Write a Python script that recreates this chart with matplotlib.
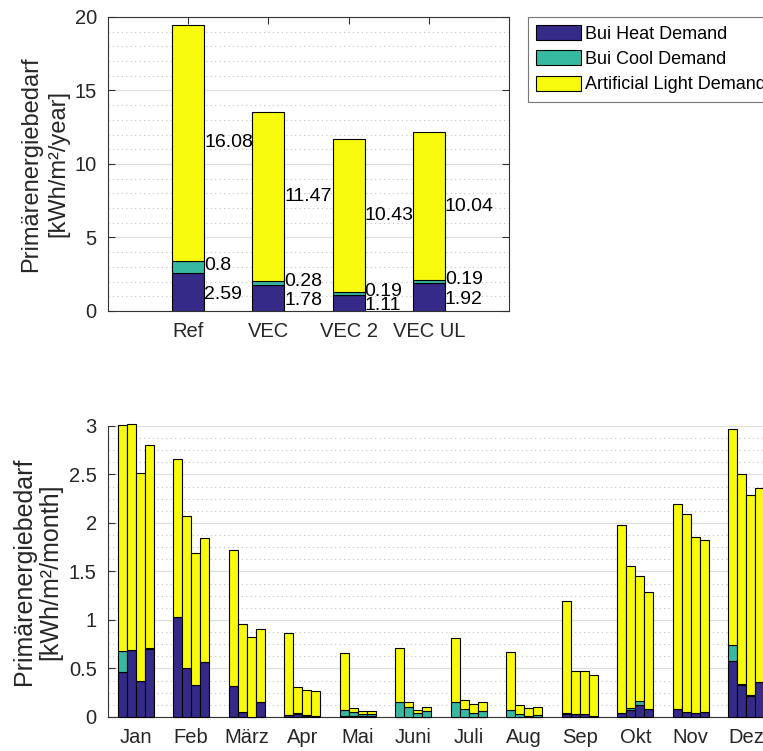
import numpy as np
import matplotlib
matplotlib.use("Agg")
import matplotlib.pyplot as plt
from matplotlib.ticker import MultipleLocator

plt.rcParams['font.family'] = ['Liberation Sans', 'DejaVu Sans']

# colours (parula-like)
cHeat = '#352a87'
cCool = '#36b9a0'
cLight = '#f8fa0d'

# yearly values
variants = ['Ref', 'VEC', 'VEC 2', 'VEC UL']
yearHeat = [2.59, 1.78, 1.11, 1.92]
yearCool = [0.8, 0.28, 0.19, 0.19]
yearLight = [16.08, 11.47, 10.43, 10.04]

# monthly values, one row per month, columns Ref, VEC, VEC 2, VEC UL
months = ['Jan', 'Feb', 'März', 'Apr', 'Mai', 'Juni', 'Juli', 'Aug', 'Sep', 'Okt', 'Nov', 'Dez']
monthTotal = [[3.01, 3.02, 2.51, 2.80],
              [2.66, 2.07, 1.69, 1.84],
              [1.72, 0.96, 0.82, 0.91],
              [0.87, 0.31, 0.28, 0.27],
              [0.66, 0.09, 0.06, 0.06],
              [0.71, 0.15, 0.07, 0.10],
              [0.81, 0.18, 0.13, 0.15],
              [0.67, 0.12, 0.09, 0.10],
              [1.20, 0.47, 0.47, 0.43],
              [1.98, 1.56, 1.45, 1.29],
              [2.20, 2.09, 1.86, 1.82],
              [2.97, 2.50, 2.29, 2.36]]
monthHeat = [[0.46, 0.69, 0.37, 0.70],
             [1.03, 0.50, 0.33, 0.57],
             [0.32, 0.05, 0.0, 0.15],
             [0.02, 0.035, 0.015, 0.008],
             [0.015, 0.012, 0.008, 0.005],
             [0.003, 0.002, 0.001, 0.001],
             [0.002, 0.002, 0.001, 0.001],
             [0.003, 0.002, 0.002, 0.002],
             [0.034, 0.027, 0.027, 0.01],
             [0.038, 0.072, 0.124, 0.082],
             [0.082, 0.048, 0.041, 0.048],
             [0.574, 0.333, 0.22, 0.361]]
monthCool = [[0.22, 0.005, 0.005, 0.008],
             [0.0, 0.0, 0.0, 0.0],
             [0.0, 0.0, 0.0, 0.0],
             [0.005, 0.003, 0.002, 0.002],
             [0.057, 0.043, 0.023, 0.029],
             [0.148, 0.098, 0.037, 0.057],
             [0.149, 0.077, 0.037, 0.057],
             [0.069, 0.025, 0.008, 0.015],
             [0.002, 0.002, 0.002, 0.002],
             [0.005, 0.021, 0.038, 0.002],
             [0.001, 0.001, 0.001, 0.001],
             [0.165, 0.004, 0.004, 0.002]]

fig = plt.figure(figsize=(7.63, 7.51), dpi=100)

gridMajor = dict(color='#dedede', linestyle='-', linewidth=0.9)
gridMinor = dict(color='#c4c4c4', linestyle=(0, (1, 3)), linewidth=0.8)
spineCol = '#333333'

# ---- yearly chart
ax1 = fig.add_axes([0.1415, 0.5859, 0.5256, 0.3915])
x = np.arange(1, 5)
h = np.array(yearHeat)
c = np.array(yearCool)
l = np.array(yearLight)
kw = dict(width=0.4, edgecolor='black', linewidth=0.8, zorder=3)
ax1.bar(x, h, color=cHeat, label='Bui Heat Demand', **kw)
ax1.bar(x, c, bottom=h, color=cCool, label='Bui Cool Demand', **kw)
ax1.bar(x, l, bottom=h + c, color=cLight, label='Artificial Light Demand', **kw)
for i in range(4):
    ax1.text(x[i] + 0.2, h[i] / 2 - 0.15, f'{yearHeat[i]:g}', fontsize=14, va='center', ha='left', zorder=4)
    ax1.text(x[i] + 0.2, h[i] + c[i] / 2 + 0.1, f'{yearCool[i]:g}', fontsize=14, va='center', ha='left', zorder=4)
    ax1.text(x[i] + 0.2, h[i] + c[i] + l[i] / 2, f'{yearLight[i]:g}', fontsize=14, va='center', ha='left', zorder=4)
ax1.set_xlim(0, 5)
ax1.set_ylim(0, 20)
ax1.set_xticks(x)
ax1.set_xticklabels(variants)
ax1.set_yticks(np.arange(0, 21, 5))
ax1.yaxis.set_minor_locator(MultipleLocator(1))
ax1.grid(axis='y', which='major', zorder=0, **gridMajor)
ax1.grid(axis='y', which='minor', zorder=0, **gridMinor)
ax1.set_axisbelow(True)
ax1.tick_params(which='major', direction='in', length=5, labelsize=14.5, top=True, right=True,
                color=spineCol, labelcolor='#262626', pad=8)
ax1.tick_params(which='minor', length=0)
for s in ax1.spines.values():
    s.set_color(spineCol)
    s.set_linewidth(0.8)
ax1.text(-0.158, 0.5, 'Primärenergiebedarf\n[kWh/m²/year]', transform=ax1.transAxes,
         rotation=90, ha='center', va='center', fontsize=17, color='#262626', linespacing=1.3)

leg = ax1.legend(loc='upper left', bbox_to_anchor=(528 / 763, 1 - 17 / 751),
                 bbox_transform=fig.transFigure, fontsize=13, frameon=True, fancybox=False,
                 handlelength=2.5, handleheight=0.9, handletextpad=0.2, labelspacing=0.42,
                 borderpad=0.45, borderaxespad=0)
leg.get_frame().set_edgecolor('#555555')
leg.get_frame().set_linewidth(0.8)

# ---- monthly chart
ax2 = fig.add_axes([0.1415, 0.0453, 0.873, 0.3875])
mx = np.arange(1, 13)
w = 0.162
tot = np.array(monthTotal)
mh = np.array(monthHeat)
mc = np.array(monthCool)
ml = tot - mh - mc
kw2 = dict(width=w, edgecolor='black', linewidth=0.8, zorder=3, clip_on=False)
for k in range(4):
    xk = mx + (k - 1.5) * w
    ax2.bar(xk, mh[:, k], color=cHeat, **kw2)
    ax2.bar(xk, mc[:, k], bottom=mh[:, k], color=cCool, **kw2)
    ax2.bar(xk, ml[:, k], bottom=mh[:, k] + mc[:, k], color=cLight, **kw2)
ax2.set_xlim(0.5, 12.5)
ax2.set_ylim(0, 3)
ax2.set_xticks(mx)
ax2.set_xticklabels(months)
ax2.set_yticks(np.arange(0, 3.01, 0.5))
ax2.yaxis.set_major_formatter(plt.FuncFormatter(lambda v, p: f'{v:g}'))
ax2.yaxis.set_minor_locator(MultipleLocator(0.125))
ax2.grid(axis='y', which='major', zorder=0, **gridMajor)
ax2.grid(axis='y', which='minor', zorder=0, **gridMinor)
ax2.set_axisbelow(True)
ax2.tick_params(which='major', direction='in', length=5, labelsize=14.5,
                color=spineCol, labelcolor='#262626', pad=8)
ax2.tick_params(which='minor', length=0)
ax2.spines['top'].set_visible(False)
ax2.spines['right'].set_visible(False)
for s in ['left', 'bottom']:
    ax2.spines[s].set_color(spineCol)
    ax2.spines[s].set_linewidth(0.8)
ax2.text(-0.1066, 0.5, 'Primärenergiebedarf\n[kWh/m²/month]', transform=ax2.transAxes,
         rotation=90, ha='center', va='center', fontsize=18, color='#262626', linespacing=1.1)

fig.savefig('out.png', dpi=100)
